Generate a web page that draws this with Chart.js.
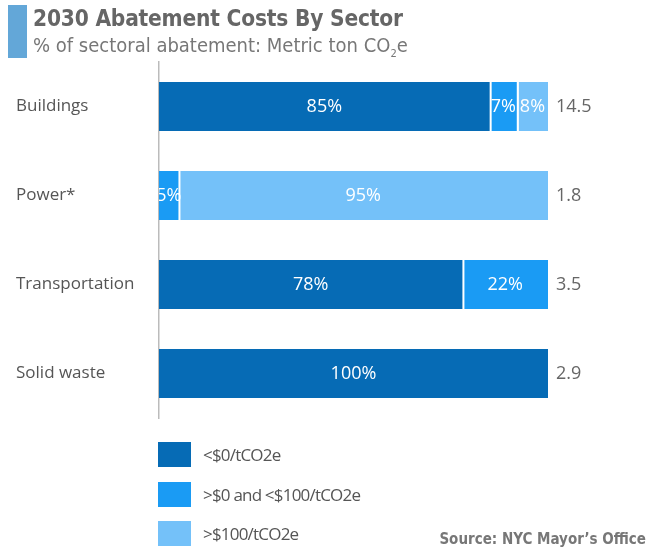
<!DOCTYPE html>
<html>
<head>
<meta charset="utf-8">
<script src="https://cdn.jsdelivr.net/npm/chart.js@4"></script>
<style>
  body { margin: 0; background: #fff; }
  #wrap { position: relative; width: 649px; height: 552px; overflow: hidden; }
  #chart { position: absolute; left: 0; top: 0; }
  .accent { position: absolute; left: 8px; top: 5px; width: 19px; height: 53px; background: #63a7d8; }
  .title { position: absolute; left: 33px; top: 5px; font: bold 22.5px "DejaVu Sans Condensed", sans-serif; color: #666; white-space: nowrap; letter-spacing: -0.2px; }
  .sub { position: absolute; left: 33px; top: 33px; font: 20px "DejaVu Sans Condensed", sans-serif; color: #777; white-space: nowrap; }
  .sub sub { font-size: 11px; }
  .leg { position: absolute; left: 158px; font: 17px "Open Sans", sans-serif; color: #555; letter-spacing: -0.8px; }
  .leg span { position: absolute; left: 0; width: 33px; height: 25px; }
  .leg div { position: absolute; left: 45px; top: 0; white-space: nowrap; line-height: 25px; }
  .src { position: absolute; right: 3px; top: 530px; font: bold 15px "DejaVu Sans Condensed", sans-serif; color: #777; }
</style>
</head>
<body>
<div id="wrap">
  <canvas id="chart" width="649" height="552"></canvas>
  <div class="accent"></div>
  <div class="title">2030 Abatement Costs By Sector</div>
  <div class="sub">% of sectoral abatement: Metric ton CO<sub>2</sub>e</div>
  <div id="legend"></div>
  <div class="src">Source: NYC Mayor’s Office</div>
</div>
<script>
const sectors = ["Buildings", "Power*", "Transportation", "Solid waste"];
const costBands = ["<$0/tCO2e", ">$0 and <$100/tCO2e", ">$100/tCO2e"];
const belowZero = [85, 0, 78, 100];
const zeroTo100 = [7, 5, 22, 0];
const above100 = [8, 95, 0, 0];
const totals = ["14.5", "1.8", "3.5", "2.9"];
const colors = ["#066bb5", "#1a9bf4", "#74c1f9"];

const series = [belowZero, zeroTo100, above100];

// html legend, one row each
const legend = document.getElementById("legend");
costBands.forEach((name, i) => {
  const row = document.createElement("div");
  row.className = "leg";
  row.style.top = (442 + i * 39.5) + "px";
  row.innerHTML = '<span style="background:' + colors[i] + '"></span><div></div>';
  row.querySelector("div").textContent = name;
  legend.appendChild(row);
});

const labelPlugin = {
  id: "barLabels",
  afterDatasetsDraw(chart) {
    const ctx = chart.ctx;
    const area = chart.chartArea;
    ctx.save();
    ctx.font = '18px "Open Sans", sans-serif';
    ctx.textBaseline = "middle";
    ctx.textAlign = "center";
    ctx.fillStyle = "#fff";
    ctx.beginPath();
    ctx.rect(area.left, area.top, area.right - area.left, area.bottom - area.top);
    ctx.clip();
    chart.data.datasets.forEach((ds, di) => {
      chart.getDatasetMeta(di).data.forEach((bar, i) => {
        const v = ds.data[i];
        if (!v) return;
        const mid = (bar.x + bar.base) / 2;
        ctx.fillText(v + "%", mid, bar.y);
      });
    });
    ctx.restore();
    ctx.save();
    ctx.font = '18px "Open Sans", sans-serif';
    ctx.textBaseline = "middle";
    ctx.fillStyle = "#666";
    const meta = chart.getDatasetMeta(0);
    meta.data.forEach((bar, i) => {
      ctx.fillText(totals[i], area.right + 8, bar.y);
    });
    ctx.restore();
  }
};

new Chart("chart", {
  type: "bar",
  data: {
    labels: sectors,
    datasets: series.map((d, i) => ({
      label: costBands[i],
      data: d,
      backgroundColor: colors[i],
      borderColor: "#fff",
      borderSkipped: false,
      borderWidth: ctx => {
        let before = 0;
        for (let k = 0; k < ctx.datasetIndex; k++) before += series[k][ctx.dataIndex];
        return { left: before > 0 ? 2 : 0, right: 0, top: 0, bottom: 0 };
      },
      categoryPercentage: 1,
      barPercentage: 0.55
    }))
  },
  options: {
    indexAxis: "y",
    responsive: false,
    animation: false,
    layout: { padding: { left: 16, right: 101, top: 62, bottom: 134 } },
    plugins: { legend: { display: false }, tooltip: { enabled: false } },
    scales: {
      x: { stacked: true, min: 0, max: 100, display: false },
      y: {
        stacked: true,
        grid: { display: false },
        border: { color: "#bbb", width: 1.5 },
        ticks: {
          crossAlign: "far",
          color: "#555",
          font: { family: "Open Sans", size: 17 },
          padding: 0
        },
        afterFit(scale) { scale.width = 143; }
      }
    }
  },
  plugins: [labelPlugin]
});
</script>
</body>
</html>
